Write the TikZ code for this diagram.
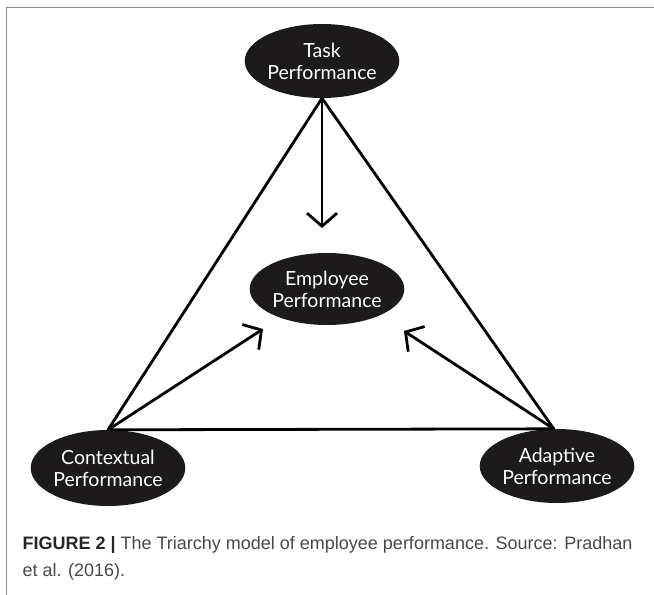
\documentclass[tikz,border=0pt]{standalone}
\usepackage{fontspec}
\setmainfont{Liberation Sans}
\newfontfamily\perffont{Lato}
\usetikzlibrary{arrows.meta,shapes.geometric}
\definecolor{ellblack}{HTML}{1C1A1A}
\definecolor{capgray}{HTML}{484848}
\definecolor{framegray}{HTML}{8C8C8C}

\begin{document}
\begin{tikzpicture}[x=1pt, y=-1pt,
	perf/.style={ellipse, fill=ellblack, text=white, inner sep=0pt, align=center,
		minimum width=146pt, minimum height=74pt, font=\perffont\fontsize{19.5}{22}\selectfont},
	tri/.style={line width=2.8pt, line join=round},
	arr/.style={line width=2.8pt, -{Straight Barb[length=13pt,width=30pt]}}]
	\useasboundingbox (0,0) rectangle (654,595);
	\draw[framegray, line width=1.6pt] (654,7.5) -- (6.5,7.5) -- (6.5,595);
	% the four performances
	\node[perf, minimum width=140pt] (task) at (322,61) {Task\\Performance};
	\node[perf, minimum height=72pt] (emp) at (327,289) {Employee\\Performance};
	\node[perf, minimum width=150pt, minimum height=76pt] (ctx) at (108,468) {Contextual\\Performance};
	\node[perf] (adp) at (557,466) {Adaptive\\Performance};
	\coordinate (empT) at (322,228);
	\coordinate (empL) at (263,329);
	\coordinate (empR) at (404,331);
	% triangle and arrows
	\draw[tri] (task.south) -- (ctx.north) -- (adp.95) -- cycle;
	\draw[arr] (task.south) -- (empT);
	\draw[arr] (ctx.north) -- (empL);
	\draw[arr] (adp.95) -- (empR);
	% caption
	\node[anchor=base west, font=\fontsize{18}{27}\selectfont, text=capgray] (cap1) at (19,549)
		{\textbf{\color{black!85}FIGURE 2 |} The Triarchy model of employee performance. Source: Pradhan};
	\node[anchor=base west, font=\fontsize{18}{27}\selectfont, text=capgray] (cap2) at (19,576) {et al. (2016).};
\end{tikzpicture}
\end{document}
